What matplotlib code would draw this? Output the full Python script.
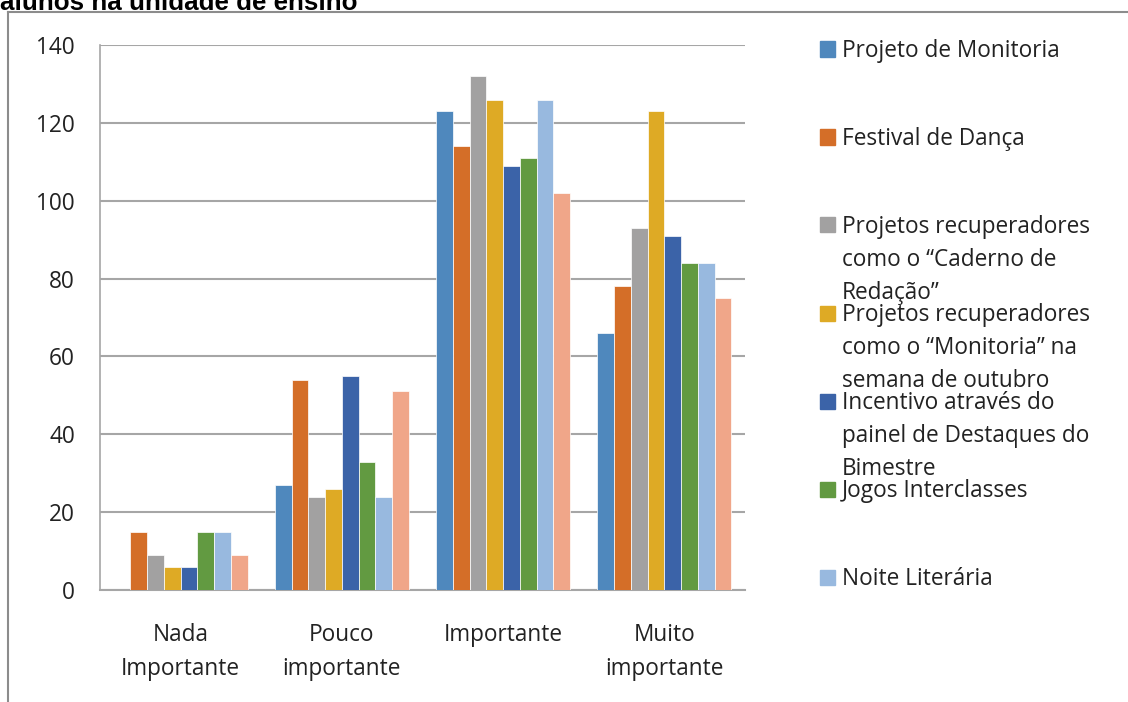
import numpy as np
import matplotlib
matplotlib.use('Agg')
import matplotlib.pyplot as plt
from matplotlib.patches import Rectangle
from matplotlib.lines import Line2D

categories = ['Nada\nImportante', 'Pouco\nimportante', 'Importante', 'Muito\nimportante']
series_names = ['Projeto de Monitoria',
                'Festival de Dança',
                'Projetos recuperadores\ncomo o \u201cCaderno de\nRedação\u201d',
                'Projetos recuperadores\ncomo o \u201cMonitoria\u201d na\nsemana de outubro',
                'Incentivo através do\npainel de Destaques do\nBimestre',
                'Jogos Interclasses',
                'Noite Literária',
                '']
monitoria = [0, 27, 123, 66]
danca = [15, 54, 114, 78]
caderno = [9, 24, 132, 93]
monitoria_out = [6, 26, 126, 123]
destaques = [6, 55, 109, 91]
interclasses = [15, 33, 111, 84]
noite = [15, 24, 126, 84]
outro = [9, 51, 102, 75]
yticks = [0, 20, 40, 60, 80, 100, 120, 140]

series = [monitoria, danca, caderno, monitoria_out, destaques, interclasses, noite, outro]
colors = ['#4f88bd', '#d46e28', '#a2a1a1', '#deaa25', '#3b63a8', '#629a41', '#98b9df', '#f0a689']

plt.rcParams['font.family'] = ['Open Sans', 'DejaVu Sans']
W, H = 1128, 702
FS = 16.3
fig = plt.figure(figsize=(W/100, H/100), dpi=100)
ax = fig.add_axes([100/W, 1-590/H, 645/W, 545/H])

bw = 0.104
x = np.arange(len(categories))
for i, (vals, c) in enumerate(zip(series, colors)):
    ax.bar(x + (i - 3.5)*bw, vals, bw, color=c, edgecolor='white', linewidth=0.5, zorder=3)

ax.set_xlim(-0.5, 3.5)
ax.set_ylim(0, 140)
ax.set_yticks(yticks)
ax.set_xticks(x)
ax.set_xticklabels(categories, fontsize=FS, color='#222222', linespacing=1.52)
ax.tick_params(axis='y', length=0, pad=18, labelsize=FS, labelcolor='#222222')
ax.tick_params(axis='x', length=0, pad=24)
ax.grid(axis='y', color='#a6a6a6', linewidth=1.5, zorder=0)
for s in ['top', 'right']:
    ax.spines[s].set_visible(False)
ax.spines['left'].set_color('#a6a6a6')
ax.spines['bottom'].set_color('#a6a6a6')
ax.spines['left'].set_linewidth(1.2)
ax.spines['bottom'].set_linewidth(1.5)

# legend drawn by hand so the swatch sits on the first text line
for i, (name, c) in enumerate(zip(series_names[:7], colors[:7])):
    yc = 49 + 88*i
    fig.patches.append(Rectangle((820/W, 1-(yc+7.5)/H), 15/W, 15/H,
                                 transform=fig.transFigure, color=c))
    fig.text(842/W, 1-(yc-10)/H, name, fontsize=FS, color='#222222',
             va='top', ha='left', linespacing=1.5)

# outer chart frame
fig.lines.append(Line2D([8/W, 8/W], [0, 1-12/H], transform=fig.transFigure,
                        color='#8c8c8c', linewidth=1.5))
fig.lines.append(Line2D([8/W, 1], [1-12/H, 1-12/H], transform=fig.transFigure,
                        color='#8c8c8c', linewidth=1.5))

fig.text(0, 1-10/H, 'alunos na unidade de ensino', fontsize=18.7, fontweight='bold',
         family='Liberation Sans', va='baseline', ha='left', color='black')

fig.savefig('out.png', dpi=100)
